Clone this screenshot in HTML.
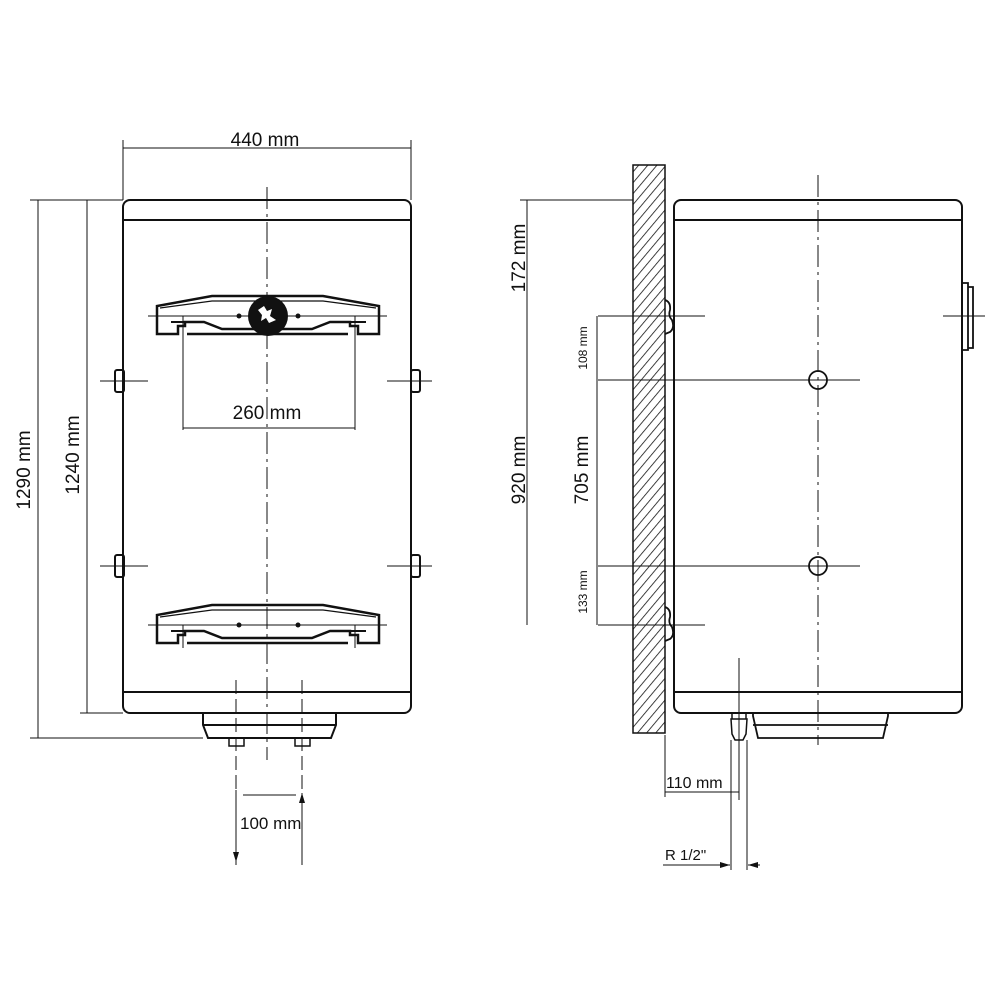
<!DOCTYPE html>
<html><head><style>body{margin:0;background:#fff}svg{display:block}text{font-family:"Liberation Sans",sans-serif;fill:#111}</style></head><body>
<svg width="1000" height="1000" viewBox="0 0 1000 1000" xmlns="http://www.w3.org/2000/svg">
<defs>
<pattern id="h" width="7" height="7" patternUnits="userSpaceOnUse" patternTransform="rotate(40)"><line x1="0" y1="0" x2="0" y2="7" stroke="#111" stroke-width="1.6"/></pattern>
<marker id="a" markerWidth="10" markerHeight="6" refX="10" refY="3" orient="auto" markerUnits="userSpaceOnUse"><path d="M0,0L10,3L0,6z" fill="#111"/></marker>
<g id="br">
<path d="M212,0 H323 L379,10 V38 H358 V30 H350 V26 L330,26 L312,33 H222 L204,26 H185 V30 H178 V38 H157 V10 Z" fill="none" stroke="#111" stroke-width="2.5"/>
<path d="M160,12 L212,5 H323 L376,12" fill="none" stroke="#111" stroke-width="1.2"/>
<path d="M171,26 H185 M350,26 H366" stroke="#111" stroke-width="2"/>
<path d="M187,38 H348" stroke="#111" stroke-width="2.5"/>
</g>
</defs>
<g fill="none" stroke="#111">
<rect x="123" y="200" width="288" height="513" rx="7" stroke-width="2"/>
<line x1="123" y1="220" x2="411" y2="220" stroke-width="2"/>
<line x1="123" y1="692" x2="411" y2="692" stroke-width="2"/>
<path d="M203,713 V725 L208,738 H331 L336,725 V713" stroke-width="2"/>
<line x1="203" y1="725" x2="336" y2="725" stroke-width="2"/>
<rect x="229" y="738" width="15" height="8" stroke-width="1.5"/>
<rect x="295" y="738" width="15" height="8" stroke-width="1.5"/>
<line x1="267" y1="187" x2="267" y2="760" stroke-width="1" stroke-dasharray="22,5,3,5"/>
<rect x="115" y="370" width="9" height="22" rx="2" stroke-width="2"/>
<rect x="411" y="370" width="9" height="22" rx="2" stroke-width="2"/>
<rect x="115" y="555" width="9" height="22" rx="2" stroke-width="2"/>
<rect x="411" y="555" width="9" height="22" rx="2" stroke-width="2"/>
<path d="M100,381H148 M387,381H432 M100,566H148 M387,566H432" stroke-width="1"/>
<use href="#br" transform="translate(0,296)"/>
<use href="#br" transform="translate(0,605)"/>
<path d="M148,316H387 M148,625H387" stroke-width="1"/>
<path d="M183,316V430 M355,316V430 M183,625V648 M355,625V648" stroke-width="1"/>
<line x1="183" y1="428" x2="355" y2="428" stroke-width="1"/>
<path d="M123,140V200 M411,140V200 M123,148H411" stroke-width="1"/>
<path d="M30,200H123 M30,738H203 M80,713H123 M38,200V738 M87,200V713" stroke-width="1"/>
<path d="M236,680V865 M302,680V865" stroke-width="1" stroke-dasharray="14,5"/>
<line x1="236" y1="790" x2="236" y2="862" stroke-width="1" marker-end="url(#a)"/>
<line x1="302" y1="860" x2="302" y2="793" stroke-width="1" marker-end="url(#a)"/>
<line x1="243" y1="795" x2="296" y2="795" stroke-width="1"/>
</g>
<circle cx="268" cy="316" r="20" fill="#111"/>
<path d="M258,310 l6,-4 l3,5 l5,-2 l-2,7 l6,4 l-7,3 l-3,-5 l-5,3 l1,-6z" fill="#fff"/>
<circle cx="239" cy="316" r="2.5" fill="#111"/><circle cx="298" cy="316" r="2.5" fill="#111"/>
<circle cx="239" cy="625" r="2.5" fill="#111"/><circle cx="298" cy="625" r="2.5" fill="#111"/>
<text x="265" y="146" font-size="19" text-anchor="middle">440 mm</text>
<text x="267" y="419" font-size="19" text-anchor="middle">260 mm</text>
<text x="240" y="829" font-size="17">100 mm</text>
<text transform="translate(30,470) rotate(-90)" font-size="19" text-anchor="middle">1290 mm</text>
<text transform="translate(79,455) rotate(-90)" font-size="19" text-anchor="middle">1240 mm</text>

<rect x="633" y="165" width="32" height="568" fill="url(#h)" stroke="#111" stroke-width="1.5"/>
<g fill="none" stroke="#111">
<rect x="674" y="200" width="288" height="513" rx="7" stroke-width="2"/>
<line x1="674" y1="220" x2="962" y2="220" stroke-width="2"/>
<line x1="674" y1="692" x2="962" y2="692" stroke-width="2"/>
<path d="M962,283H968V350H962 M968,287H973V348H968" stroke-width="1.8"/>
<path d="M665,300 q6,2 5,10 q-2,6 2,10 q3,8 -2,12 l-5,2 M665,607 q6,2 5,10 q-2,6 2,10 q3,8 -2,12 l-5,2" stroke-width="1.8"/>
<line x1="818" y1="175" x2="818" y2="745" stroke-width="1" stroke-dasharray="22,5,3,5"/>
<circle cx="818" cy="380" r="9" stroke-width="1.8"/>
<circle cx="818" cy="566" r="9" stroke-width="1.8"/>
<path d="M598,380H860 M598,566H860 M598,316H705 M598,625H705 M943,316H985 M520,200H633" stroke-width="1"/>
<path d="M527,200V625 M597,316V625" stroke-width="1"/>
<path d="M753,713V716 L758,738 H883 L888,716 V713 M753,725H888" stroke-width="1.8"/>
<path d="M732,713H746V719H732Z M731,719H747 L746,734 L743,740 H735 L732,734Z" stroke-width="1.5"/>
<path d="M739,658V800 M665,735V797 M665,792H739 M731,740V870 M747,740V870" stroke-width="1"/>
<line x1="663" y1="865" x2="730" y2="865" stroke-width="1" marker-end="url(#a)"/>
<line x1="760" y1="865" x2="748" y2="865" stroke-width="1" marker-end="url(#a)"/>
</g>
<text transform="translate(525,258) rotate(-90)" font-size="19" text-anchor="middle">172 mm</text>
<text transform="translate(525,470) rotate(-90)" font-size="19" text-anchor="middle">920 mm</text>
<text transform="translate(587,348) rotate(-90)" font-size="12" text-anchor="middle">108 mm</text>
<text transform="translate(588,470) rotate(-90)" font-size="19" text-anchor="middle">705 mm</text>
<text transform="translate(587,592) rotate(-90)" font-size="12" text-anchor="middle">133 mm</text>
<text x="666" y="788" font-size="16">110 mm</text>
<text x="665" y="860" font-size="15">R 1/2"</text>
</svg>
</body></html>
